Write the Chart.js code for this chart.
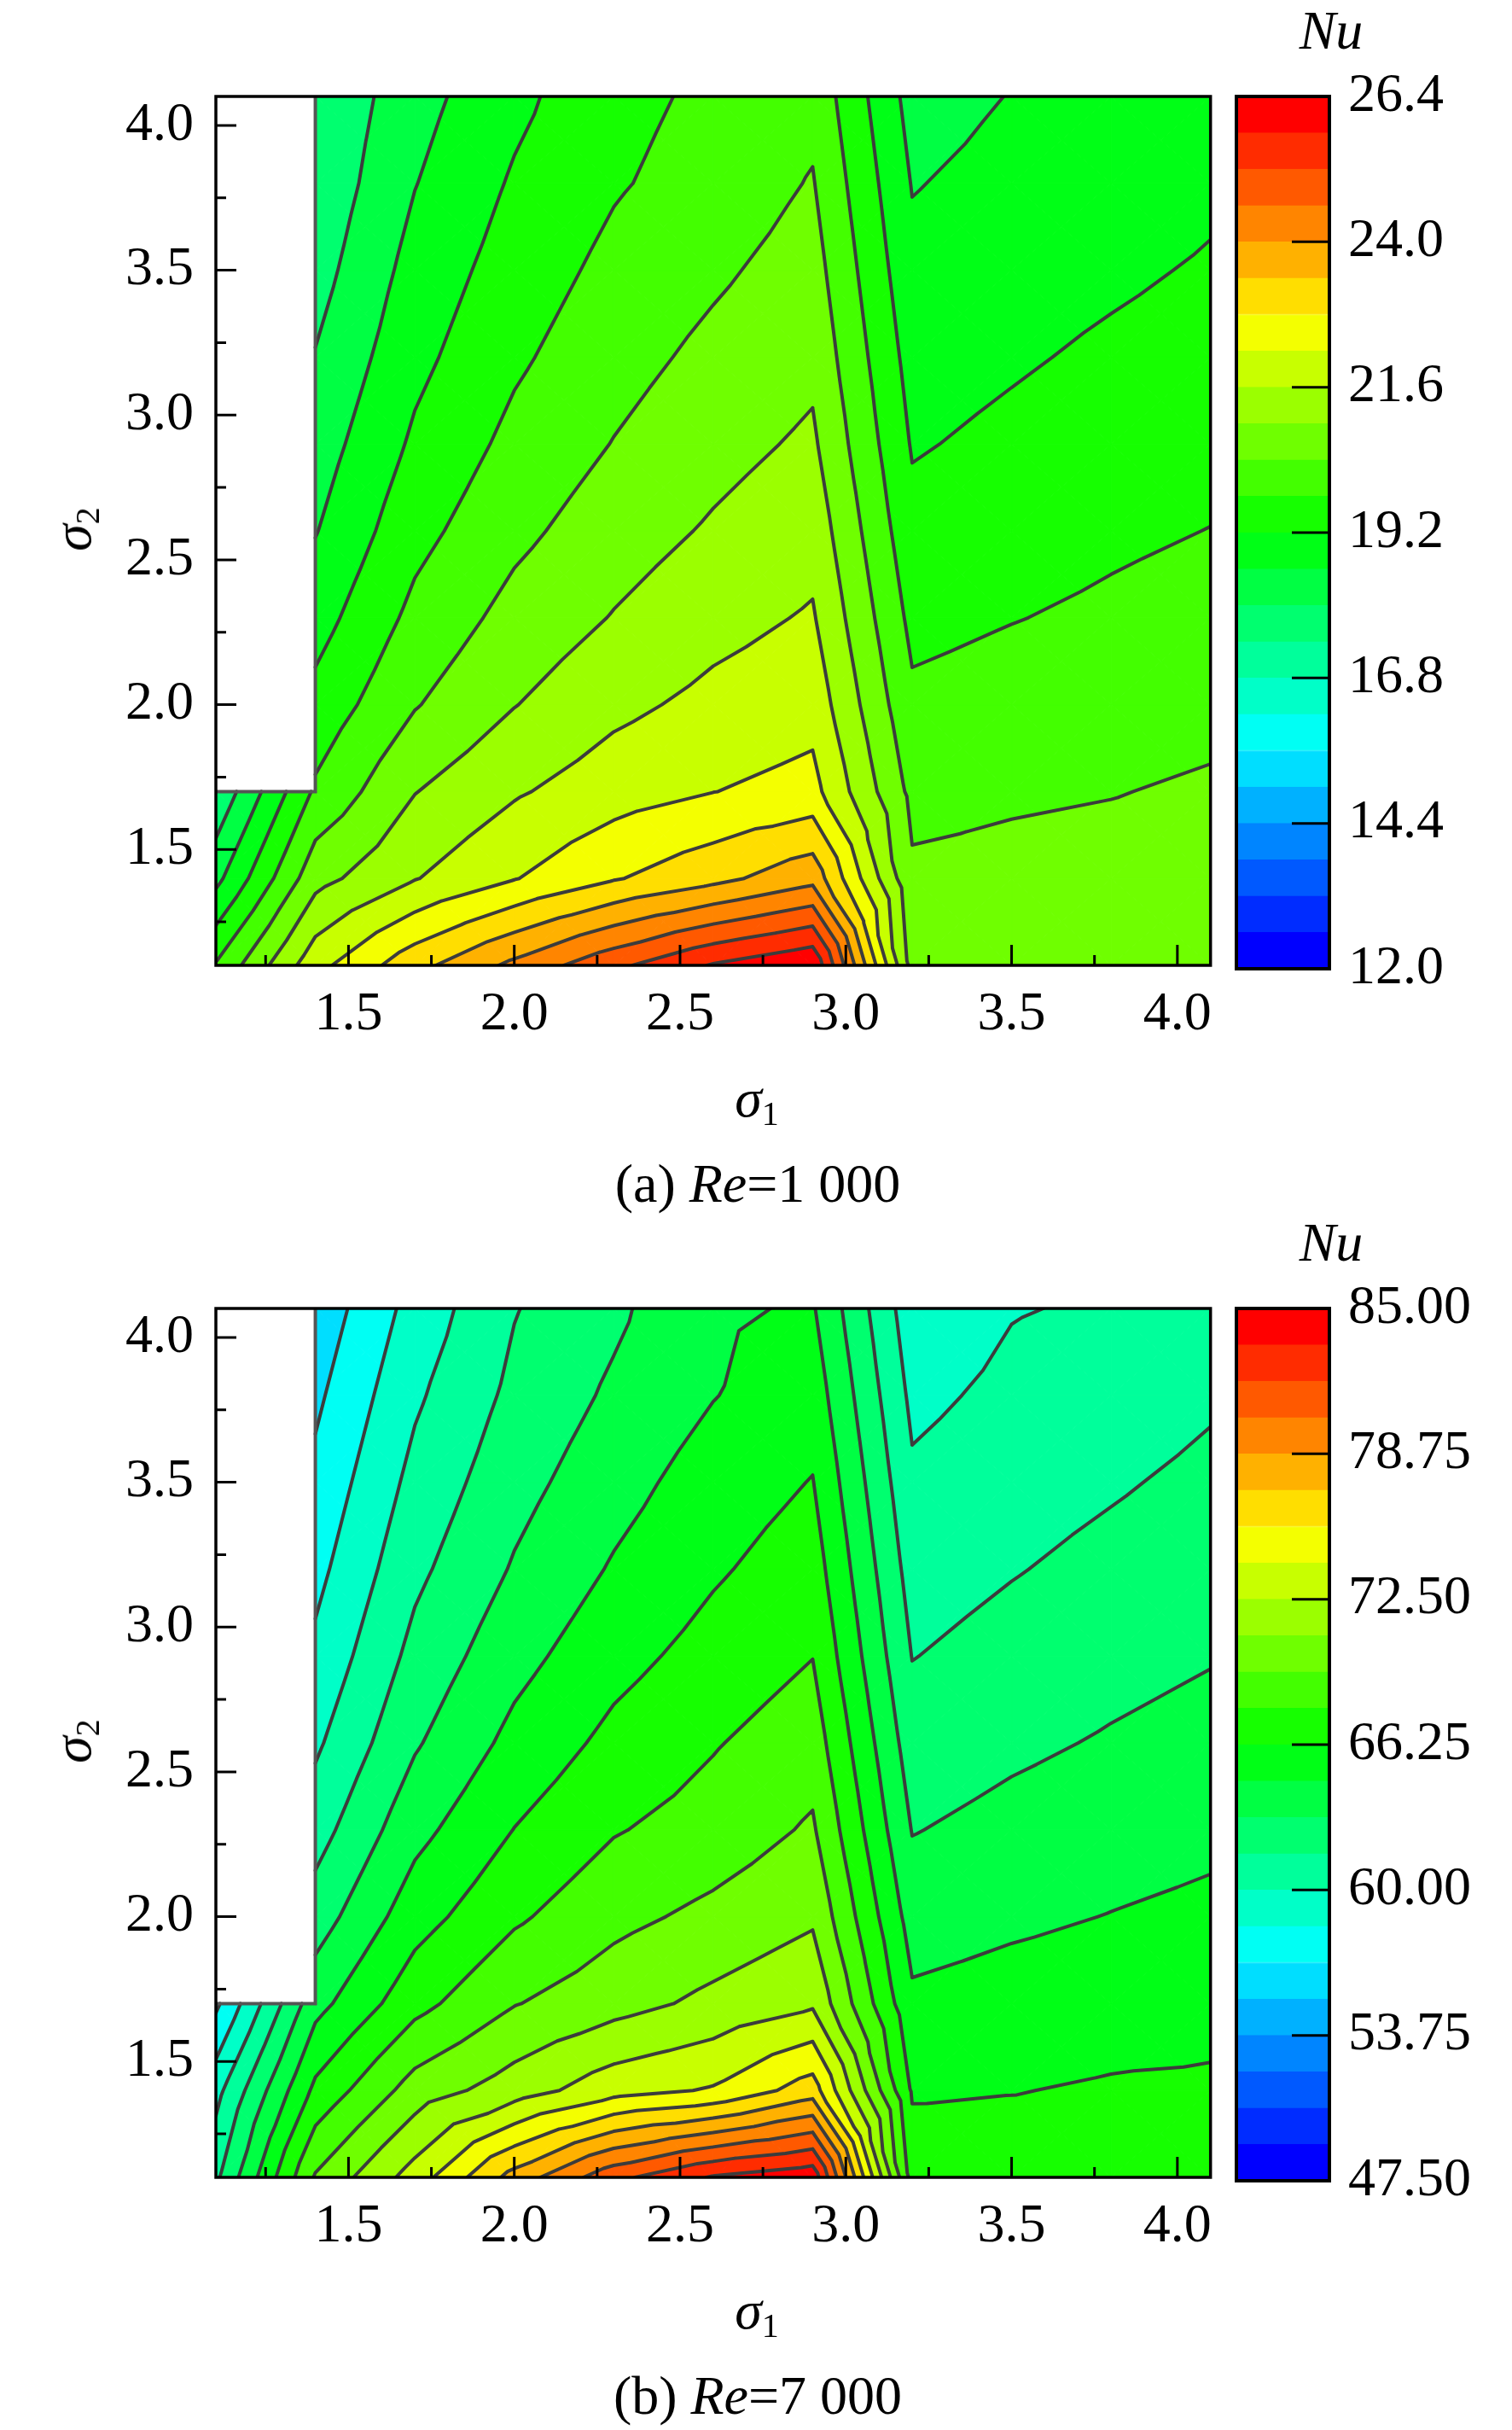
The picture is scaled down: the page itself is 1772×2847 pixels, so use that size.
<!DOCTYPE html>
<html>
<head>
<meta charset="utf-8">
<script src="https://cdn.jsdelivr.net/npm/chart.js@4.4.0/dist/chart.umd.min.js"></script>
<style>
  html, body { margin: 0; padding: 0; background: #fff; }
  #page { position: relative; width: 1772px; height: 2847px; overflow: hidden;
          font-family: "Liberation Serif", "Times New Roman", serif; color: #000; }
  canvas { position: absolute; }
  .lbl { position: absolute; font-size: 64px; line-height: 1; white-space: nowrap;
         transform: translate(-50%, -50%); }
  .lbl sub { font-size: 40px; vertical-align: -0.25em; font-style: normal; }
  .rot { transform: translate(-50%, -50%) rotate(-90deg); }
</style>
</head>
<body>
<div id="page">
  <canvas id="plotA" width="1440" height="1260" style="left:0;top:0"></canvas>
  <canvas id="barA" width="332" height="1260" style="left:1440px;top:0"></canvas>
  <div class="lbl" style="left:1560px;top:36px"><i>Nu</i></div>
  <div class="lbl rot" style="left:88px;top:620px"><i>σ</i><sub>2</sub></div>
  <div class="lbl" style="left:887px;top:1290px"><i>σ</i><sub>1</sub></div>
  <div class="lbl" style="left:888px;top:1387px">(a) <i>Re</i>=1 000</div>

  <canvas id="plotB" width="1440" height="1260" style="left:0;top:1420px"></canvas>
  <canvas id="barB" width="332" height="1260" style="left:1440px;top:1420px"></canvas>
  <div class="lbl" style="left:1560px;top:1456px"><i>Nu</i></div>
  <div class="lbl rot" style="left:88px;top:2040px"><i>σ</i><sub>2</sub></div>
  <div class="lbl" style="left:887px;top:2710px"><i>σ</i><sub>1</sub></div>
  <div class="lbl" style="left:888px;top:2807px">(b) <i>Re</i>=7 000</div>
</div>
<script>
// grid nodes (sigma1 across, sigma2 up); null = no case computed
const sigma1 = [1.1, 1.4, 1.7, 2.0, 2.3, 2.6, 2.9, 3.2, 3.5, 3.8, 4.1];
const sigma2 = [1.1, 1.4, 1.7, 2.0, 2.3, 2.6, 2.9, 3.2, 3.5, 3.8, 4.1];

// Nu, Re = 1000, one row per sigma2 (bottom to top)
const nuRe1000 = [
  [19.85, 22.00, 23.20, 24.15, 25.05, 25.85, 26.35, 20.78, 20.70, 20.75, 20.80],
  [18.43, 20.79, 21.57, 22.17, 22.75, 23.22, 23.80, 20.50, 20.55, 20.60, 20.65],
  [17.50, 19.90, 20.98, 21.53, 21.93, 22.19, 22.40, 20.24, 20.33, 20.38, 20.47],
  [null,  19.39, 20.36, 20.98, 21.45, 21.76, 21.98, 19.92, 20.05, 20.16, 20.25],
  [null,  18.95, 19.96, 20.60, 21.03, 21.40, 21.66, 19.64, 19.78, 19.90, 20.02],
  [null,  18.57, 19.61, 20.25, 20.72, 21.07, 21.38, 19.38, 19.56, 19.70, 19.81],
  [null,  18.30, 19.30, 19.96, 20.42, 20.80, 21.10, 19.15, 19.33, 19.50, 19.62],
  [null,  18.03, 19.04, 19.70, 20.18, 20.55, 20.86, 18.96, 19.13, 19.30, 19.44],
  [null,  17.76, 18.82, 19.48, 19.96, 20.30, 20.65, 18.76, 18.95, 19.10, 19.26],
  [null,  17.55, 18.58, 19.27, 19.74, 20.05, 20.44, 18.57, 18.78, 18.90, 19.09],
  [null,  17.45, 18.38, 19.05, 19.62, 19.92, 20.23, 18.37, 18.62, 18.75, 18.91]
];

// Nu, Re = 7000
const nuRe7000 = [
  [61.25, 69.53, 73.20, 77.81, 81.41, 83.59, 84.53, 67.19, 67.11, 67.03, 67.03],
  [59.48, 66.63, 70.08, 71.72, 73.44, 74.22, 76.41, 66.08, 66.20, 66.41, 66.48],
  [56.56, 64.14, 67.30, 69.30, 70.34, 71.33, 72.25, 64.98, 65.31, 65.56, 65.77],
  [null,  62.33, 65.59, 67.56, 68.94, 69.77, 70.70, 64.00, 64.41, 64.73, 65.03],
  [null,  60.89, 64.20, 66.28, 67.70, 68.47, 69.58, 63.06, 63.59, 64.00, 64.33],
  [null,  59.73, 62.95, 65.14, 66.67, 67.70, 68.67, 62.28, 62.83, 63.27, 63.67],
  [null,  58.78, 62.03, 64.16, 65.72, 66.83, 67.78, 61.52, 62.13, 62.63, 63.03],
  [null,  57.98, 61.20, 63.27, 64.84, 66.05, 67.03, 60.89, 61.47, 62.00, 62.47],
  [null,  57.27, 60.47, 62.58, 64.09, 65.42, 66.31, 60.27, 60.91, 61.39, 61.92],
  [null,  56.56, 59.75, 61.94, 63.39, 64.63, 65.58, 59.64, 60.36, 60.77, 61.36],
  [null,  55.84, 59.02, 61.48, 62.81, 64.48, 64.84, 59.02, 59.92, 60.17, 60.80]
];

const axisTicks = [1.25, 1.5, 1.75, 2.0, 2.25, 2.5, 2.75, 3.0, 3.25, 3.5, 3.75, 4.0];
const cbTicksA = [12.0, 14.4, 16.8, 19.2, 21.6, 24.0, 26.4];
const cbTicksB = [47.5, 53.75, 60.0, 66.25, 72.5, 78.75, 85.0];
const NBANDS = 24;

const FONT = "'Liberation Serif', 'Times New Roman', serif";
const LINE = '#3c3c3c';

function bandColor(k) {
  // blue - cyan - green - yellow - red
  const stops = [[0,0,255],[0,255,255],[0,255,0],[255,255,0],[255,0,0]];
  const s = Math.min(k / (NBANDS - 1) * 4, 3.9999);
  const i = Math.floor(s), f = s - i;
  const c = stops[i].map((v, j) => Math.round(v + (stops[i+1][j] - v) * f));
  return 'rgb(' + c.join(',') + ')';
}
const colors = Array.from({length: NBANDS}, (_, k) => bandColor(k));

function clip(poly, L, above) {
  if (!isFinite(L)) return poly;
  const out = [];
  for (let i = 0; i < poly.length; i++) {
    const p = poly[i], q = poly[(i + 1) % poly.length];
    const pin = above ? p.v >= L : p.v <= L;
    const qin = above ? q.v >= L : q.v <= L;
    if (pin) out.push(p);
    if (pin !== qin) {
      const t = (L - p.v) / (q.v - p.v);
      out.push({px: p.px + t * (q.px - p.px), py: p.py + t * (q.py - p.py), v: L});
    }
  }
  return out;
}

function makePanel(id, nu, lo, hi, cbTicks, digits) {
  const step = (hi - lo) / NBANDS;

  const contour = {
    id: 'contour' + id,
    beforeDatasetsDraw(chart) {
      const {ctx, chartArea: a, scales: {x, y}} = chart;
      const node = (i, j) => nu[j][i] == null ? null :
        {px: x.getPixelForValue(sigma1[i]), py: y.getPixelForValue(sigma2[j]), v: nu[j][i]};
      const tris = [];
      for (let j = 0; j < sigma2.length - 1; j++) {
        for (let i = 0; i < sigma1.length - 1; i++) {
          const p = [node(i, j), node(i + 1, j), node(i + 1, j + 1), node(i, j + 1)];
          if (p.some(q => !q)) continue;
          const m = {px: 0, py: 0, v: 0};
          p.forEach(q => { m.px += q.px / 4; m.py += q.py / 4; m.v += q.v / 4; });
          for (let e = 0; e < 4; e++) tris.push([p[e], p[(e + 1) % 4], m]);
        }
      }
      ctx.save();
      ctx.beginPath();
      ctx.rect(a.left, a.top, a.width, a.height);
      ctx.clip();
      // filled bands
      ctx.lineWidth = 1;
      tris.forEach(t => {
        for (let k = 0; k < NBANDS; k++) {
          const l0 = k === 0 ? -Infinity : lo + k * step;
          const l1 = k === NBANDS - 1 ? Infinity : lo + (k + 1) * step;
          const poly = clip(clip(t, l0, true), l1, false);
          if (poly.length < 3) continue;
          ctx.beginPath();
          poly.forEach((q, n) => n ? ctx.lineTo(q.px, q.py) : ctx.moveTo(q.px, q.py));
          ctx.closePath();
          ctx.fillStyle = ctx.strokeStyle = colors[k];
          ctx.fill();
          ctx.stroke();
        }
      });
      // contour lines
      ctx.beginPath();
      tris.forEach(t => {
        for (let k = 1; k < NBANDS; k++) {
          const L = lo + k * step;
          const pts = [];
          for (let e = 0; e < 3; e++) {
            const p = t[e], q = t[(e + 1) % 3];
            if ((p.v >= L) !== (q.v >= L)) {
              const s = (L - p.v) / (q.v - p.v);
              pts.push([p.px + s * (q.px - p.px), p.py + s * (q.py - p.py)]);
            }
          }
          if (pts.length === 2) { ctx.moveTo(pts[0][0], pts[0][1]); ctx.lineTo(pts[1][0], pts[1][1]); }
        }
      });
      ctx.strokeStyle = LINE;
      ctx.lineWidth = 4;
      ctx.lineCap = 'round';
      ctx.stroke();
      // edge of the empty corner
      ctx.beginPath();
      ctx.moveTo(x.getPixelForValue(sigma1[0]), y.getPixelForValue(sigma2[2]));
      ctx.lineTo(x.getPixelForValue(sigma1[1]), y.getPixelForValue(sigma2[2]));
      ctx.lineTo(x.getPixelForValue(sigma1[1]), y.getPixelForValue(sigma2[10]));
      ctx.strokeStyle = '#555';
      ctx.lineWidth = 4;
      ctx.stroke();
      ctx.restore();
    },
    afterDraw(chart) {
      const {ctx, chartArea: a, scales: {x, y}} = chart;
      ctx.save();
      ctx.strokeStyle = '#000';
      ctx.lineWidth = 3;
      ctx.beginPath();
      x.ticks.forEach(t => {
        const px = x.getPixelForValue(t.value), len = t.label ? 24 : 12;
        ctx.moveTo(px, a.bottom); ctx.lineTo(px, a.bottom - len);
      });
      y.ticks.forEach(t => {
        const py = y.getPixelForValue(t.value), len = t.label ? 24 : 12;
        ctx.moveTo(a.left, py); ctx.lineTo(a.left + len, py);
      });
      ctx.stroke();
      ctx.lineWidth = 3.5;
      ctx.strokeRect(a.left, a.top, a.width, a.height);
      ctx.restore();
    }
  };

  const points = [];
  nu.forEach((row, j) => row.forEach((v, i) => { if (v != null) points.push({x: sigma1[i], y: sigma2[j]}); }));

  const axis = (fit) => ({
    type: 'linear',
    min: 1.1,
    max: 4.1,
    afterBuildTicks: s => { s.ticks = axisTicks.map(v => ({value: v})); },
    afterFit: fit,
    grid: {display: false, drawTicks: false},
    border: {display: false},
    ticks: {
      autoSkip: false, maxRotation: 0, color: '#000',
      font: {family: FONT, size: 64},
      callback: v => Number.isInteger(v * 2) ? v.toFixed(1) : ''
    }
  });

  const xs = axis(s => { s.height = 129; });
  xs.ticks.padding = 20;
  const ys = axis(s => { s.width = 253; });
  ys.ticks.padding = 26;

  new Chart(document.getElementById('plot' + id), {
    type: 'scatter',
    data: {datasets: [{data: points, pointRadius: 0, showLine: false}]},
    options: {
      responsive: false, devicePixelRatio: 1, animation: false, events: [],
      layout: {padding: {left: 0, top: 113, right: 5, bottom: 0}},
      plugins: {legend: {display: false}, tooltip: {enabled: false}},
      scales: {x: xs, y: ys}
    },
    plugins: [contour]
  });

  const colorbar = {
    id: 'colorbar' + id,
    afterDraw(chart) {
      const {ctx, chartArea: a, scales: {y}} = chart;
      ctx.save();
      ctx.strokeStyle = '#000';
      ctx.lineWidth = 3;
      ctx.beginPath();
      y.ticks.forEach((t, n) => {
        if (n === 0 || n === y.ticks.length - 1) return;
        const py = y.getPixelForValue(t.value);
        ctx.moveTo(a.right, py); ctx.lineTo(a.right - 44, py);
      });
      ctx.stroke();
      ctx.lineWidth = 4;
      ctx.strokeRect(a.left, a.top, a.width, a.height);
      ctx.restore();
    }
  };

  const bands = Array.from({length: NBANDS}, (_, k) => ({
    data: [[lo + k * step, lo + (k + 1) * step]],
    backgroundColor: colors[k],
    borderColor: colors[k],
    borderWidth: 1,
    borderSkipped: false,
    barPercentage: 1,
    categoryPercentage: 1,
    grouped: false
  }));

  new Chart(document.getElementById('bar' + id), {
    type: 'bar',
    data: {labels: ['Nu'], datasets: bands},
    options: {
      responsive: false, devicePixelRatio: 1, animation: false, events: [],
      layout: {padding: {left: 9, top: 113, right: 0, bottom: 125}},
      plugins: {legend: {display: false}, tooltip: {enabled: false}},
      scales: {
        x: {display: false},
        y: {
          position: 'right', min: lo, max: hi,
          afterBuildTicks: s => { s.ticks = cbTicks.map(v => ({value: v})); },
          afterFit: s => { s.width = 214; },
          grid: {display: false, drawTicks: false},
          border: {display: false},
          ticks: {
            autoSkip: false, color: '#000', padding: 22,
            font: {family: FONT, size: 64},
            callback: v => v.toFixed(digits)
          }
        }
      }
    },
    plugins: [colorbar]
  });
}

makePanel('A', nuRe1000, 12.0, 26.4, cbTicksA, 1);
makePanel('B', nuRe7000, 47.5, 85.0, cbTicksB, 2);
</script>
</body>
</html>
